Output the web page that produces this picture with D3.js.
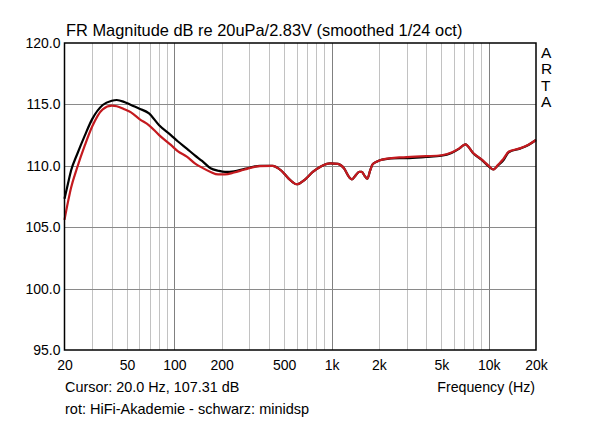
<!DOCTYPE html>
<html><head><meta charset="utf-8">
<script src="https://cdn.jsdelivr.net/npm/d3@7"></script>
<style>body{margin:0;background:#fff;}svg{display:block;}text{font-family:"Liberation Sans",Arial,sans-serif;fill:#000;}</style>
</head><body>
<svg id="c" width="600" height="421"></svg>
<script>
const freqs = [20,21,22,24,27,30,35,40,43,48,53,60,69,80,95,105,120,135,150,170,190,210,240,280,350,420,480,530,600,680,760,850,980,1100,1200,1300,1350,1420,1500,1560,1620,1690,1760,1820,1950,2100,2700,3000,4000,5000,5800,6500,7100,8000,9000,10000,10700,11500,12400,13400,15800,17900,20000];
const blackDb = [107.31,108.5,109.6,110.9,112.5,113.8,114.95,115.3,115.36,115.2,114.95,114.65,114.27,113.3,112.5,112.0,111.4,110.85,110.4,109.8,109.6,109.5,109.55,109.75,110.0,110.0,109.6,109.0,108.5,108.9,109.5,109.93,110.2,110.15,109.8,109.05,108.9,109.2,109.5,109.5,109.2,108.95,109.6,110.1,110.35,110.5,110.62,110.62,110.72,110.82,111.05,111.4,111.75,111.0,110.5,109.95,109.7,110.05,110.45,111.1,111.4,111.7,112.1];
const redDb = [105.6,107.0,108.2,109.8,111.7,113.2,114.6,114.9,114.85,114.6,114.35,113.8,113.3,112.5,111.7,111.2,110.75,110.2,109.85,109.5,109.3,109.3,109.45,109.7,109.98,110.0,109.6,109.0,108.5,108.9,109.5,109.93,110.2,110.15,109.8,109.05,108.9,109.2,109.5,109.5,109.2,108.95,109.6,110.1,110.35,110.5,110.68,110.7,110.78,110.86,111.08,111.42,111.75,111.02,110.52,110.0,109.7,110.1,110.55,111.15,111.42,111.72,112.1];
const yTicks = [95,100,105,110,115,120];
const xTickVals = [20,50,100,200,500,1000,2000,5000,10000,20000];
const xTickLabels = ["20","50","100","200","500","1k","2k","5k","10k","20k"];
const title = "FR Magnitude dB re 20uPa/2.83V (smoothed 1/24 oct)";
const cursorText = "Cursor: 20.0 Hz, 107.31 dB";
const xTitle = "Frequency (Hz)";
const legendText = "rot: HiFi-Akademie - schwarz: minidsp";
const sideLetters = ["A","R","T","A"];

const L=64.5, R=536, T=43, B=350;
const svg = d3.select("#c");
const x = d3.scaleLog().domain([20,20000]).range([L,R]);
const y = d3.scaleLinear().domain([95,120]).range([B,T]);

// vertical grid
const minor=[];
[10,100,1000,10000].forEach(d=>{for(let k=1;k<10;k++){const f=d*k; if(f>20&&f<20000) minor.push(f);}});
const g = svg.append("g");
g.selectAll("line.v").data(minor).enter().append("line")
 .attr("x1",d=>Math.round(x(d))+0.5).attr("x2",d=>Math.round(x(d))+0.5)
 .attr("y1",T).attr("y2",B)
 .attr("stroke",d=>([100,1000,10000].includes(d)?"#808080":"#c2c2c2")).attr("stroke-width",1);
g.selectAll("line.h").data(yTicks.filter(v=>v>95&&v<120)).enter().append("line")
 .attr("x1",L).attr("x2",R).attr("y1",d=>Math.round(y(d))+0.5).attr("y2",d=>Math.round(y(d))+0.5)
 .attr("stroke","#8a8a8a").attr("stroke-width",1);

// curves
const line = d3.line().x((d,i)=>x(freqs[i])).y(d=>y(d)).curve(d3.curveMonotoneX);
svg.append("path").datum(blackDb).attr("d",line).attr("fill","none").attr("stroke","#000").attr("stroke-width",2.2);
svg.append("path").datum(redDb).attr("d",line).attr("fill","none").attr("stroke","#c41a1f").attr("stroke-width",2.2);

// frame
svg.append("rect").attr("x",L).attr("y",T).attr("width",R-L).attr("height",B-T)
 .attr("fill","none").attr("stroke","#000").attr("stroke-width",1.5);

// y axis labels
const yAxis = d3.axisLeft(y).tickValues(yTicks).tickFormat(d3.format(".1f")).tickSize(0).tickPadding(4);
const ya = svg.append("g").attr("transform",`translate(${L},0)`).call(yAxis);
ya.select(".domain").remove();
ya.selectAll("text").attr("font-size",14).attr("font-family","Liberation Sans, Arial, sans-serif").attr("fill","#000").attr("dy","0.32em");

// x axis labels
const xAxis = d3.axisBottom(x).tickValues(xTickVals).tickFormat((d,i)=>xTickLabels[i]).tickSize(0).tickPadding(10);
const xa = svg.append("g").attr("transform",`translate(0,${B})`).call(xAxis);
xa.select(".domain").remove();
xa.selectAll("text").attr("font-size",14).attr("font-family","Liberation Sans, Arial, sans-serif").attr("fill","#000");

svg.append("text").attr("x",66).attr("y",36).attr("font-size",16.4).text(title);
svg.append("text").attr("x",65).attr("y",392).attr("font-size",14.4).text(cursorText);
svg.append("text").attr("x",535).attr("y",392).attr("font-size",14.2).attr("text-anchor","end").text(xTitle);
svg.append("text").attr("x",65).attr("y",414).attr("font-size",14.5).text(legendText);
svg.selectAll("text.side").data(sideLetters).enter().append("text")
 .attr("x",541).attr("y",(d,i)=>58+i*16.3).attr("font-size",15.5).text(d=>d);
</script>
</body></html>
